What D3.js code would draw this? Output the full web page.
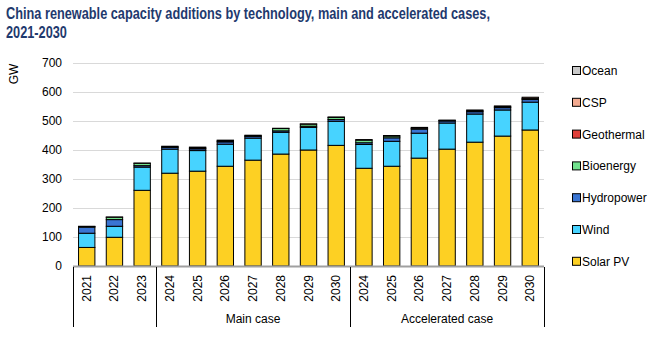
<!DOCTYPE html>
<html>
<head>
<meta charset="utf-8">
<script src="https://cdn.jsdelivr.net/npm/d3@7"></script>
<style>
  body { margin: 0; background: #fff; }
  svg { display: block; font-family: "Liberation Sans", Arial, sans-serif; }
</style>
</head>
<body>
<svg></svg>
<script>
// Data
const years = ["2021", "2022", "2023",
  "2024", "2025", "2026", "2027", "2028", "2029", "2030",
  "2024", "2025", "2026", "2027", "2028", "2029", "2030"];
const solarPV    = [64, 99, 261, 320, 327, 344, 365, 386, 400, 416, 337, 344, 372, 403, 427, 448, 469];
const wind       = [49, 38, 80, 83, 71, 76, 76, 75, 78, 83, 82, 86, 86, 90, 97, 90, 96];
const hydropower = [21, 23, 5, 6, 6, 8, 6, 5, 4, 6, 6, 12, 14, 7, 8, 8, 9];
const bioenergy  = [2, 8, 8, 2, 3, 3, 2, 8, 7, 7, 9, 6, 3, 2, 3, 3, 4];
const geothermal = [0, 0, 0, 0, 0, 0, 0, 0, 0, 0, 0, 0, 0, 0, 0, 0, 0];
const csp        = [1, 1, 1, 2, 3, 3, 2, 1, 1, 2, 2, 2, 3, 1, 3, 3, 4];
const ocean      = [0, 0, 0, 0, 0, 0, 0, 0, 0, 0, 0, 0, 0, 0, 0, 0, 0];
const seriesNames = ["Solar PV", "Wind", "Hydropower", "Bioenergy", "Geothermal", "CSP", "Ocean"];
const seriesColors = ["#FDD023", "#47D3FF", "#3A75D3", "#72E28E", "#E0403A", "#F3AA90", "#C9C9C9"];
const groups = [
  {label: "", from: 0, to: 2},
  {label: "Main case", from: 3, to: 9},
  {label: "Accelerated case", from: 10, to: 16}
];
const yTicks = [0, 100, 200, 300, 400, 500, 600, 700];

const width = 658, height = 337;
const svg = d3.select("svg").attr("width", width).attr("height", height);

const margin = {left: 73, right: 114, top: 63, bottom: 71};
const plotRight = width - margin.right;   // 544
const plotBottom = height - margin.bottom; // 266

// build rows for stacking
const cols = [solarPV, wind, hydropower, bioenergy, geothermal, csp, ocean];
const rows = years.map((y, i) => {
  const r = {idx: i};
  seriesNames.forEach((s, k) => r[s] = cols[k][i]);
  return r;
});
const stacked = d3.stack().keys(seriesNames)(rows);

const x = d3.scaleBand()
  .domain(d3.range(years.length))
  .range([margin.left, plotRight])
  .paddingInner(0.41)
  .paddingOuter(0.2);

const y = d3.scaleLinear()
  .domain([0, 700])
  .range([plotBottom, margin.top]);

// Title (condensed to fit the original width)
const title = svg.append("g")
  .attr("fill", "#1F3A6E")
  .style("font-weight", "bold")
  .style("font-size", "16px");
const t1 = title.append("text").attr("x", 6).attr("y", 19)
  .text("China renewable capacity additions by technology, main and accelerated cases,");
const t2 = title.append("text").attr("x", 6).attr("y", 38).text("2021-2030");
const ratio = Math.min(1, 484 / t1.node().getComputedTextLength());
[t1, t2].forEach(t => {
  const len = t.node().getComputedTextLength();
  t.attr("textLength", len * ratio).attr("lengthAdjust", "spacingAndGlyphs");
});

// Gridlines
svg.append("g")
  .selectAll("line")
  .data(yTicks.filter(d => d > 0))
  .join("line")
  .attr("x1", margin.left)
  .attr("x2", plotRight)
  .attr("y1", d => Math.round(y(d)) + 0.5)
  .attr("y2", d => Math.round(y(d)) + 0.5)
  .attr("stroke", "#D9D9D9")
  .attr("stroke-width", 1);

// Y axis labels
svg.append("g")
  .attr("transform", `translate(${margin.left},0)`)
  .call(d3.axisLeft(y).tickValues(yTicks).tickSize(0).tickPadding(11))
  .call(g => g.select(".domain").remove())
  .selectAll("text")
  .style("font-size", "12px")
  .style("font-family", "Liberation Sans, Arial, sans-serif")
  .attr("fill", "#000");

svg.append("text")
  .attr("transform", "translate(18,74) rotate(-90)")
  .attr("text-anchor", "middle")
  .style("font-size", "12px")
  .text("GW");

// Bars
svg.append("g")
  .selectAll("g")
  .data(stacked)
  .join("g")
  .attr("fill", (d, i) => seriesColors[i])
  .selectAll("rect")
  .data(d => d.filter(p => p[1] - p[0] > 0))
  .join("rect")
  .attr("x", d => x(d.data.idx))
  .attr("y", d => y(d[1]))
  .attr("width", x.bandwidth())
  .attr("height", d => y(d[0]) - y(d[1]))
  .attr("stroke", "#000")
  .attr("stroke-width", 1);

// X axis baseline
svg.append("line")
  .attr("x1", margin.left).attr("x2", plotRight)
  .attr("y1", plotBottom + 0.5).attr("y2", plotBottom + 0.5)
  .attr("stroke", "#A0A0A0")
  .attr("stroke-width", 2);

// X tick labels (rotated)
svg.append("g")
  .selectAll("text")
  .data(years)
  .join("text")
  .attr("transform", (d, i) => `translate(${x(i) + x.bandwidth() / 2 + 4},275) rotate(-90)`)
  .attr("text-anchor", "end")
  .style("font-size", "12px")
  .text(d => d);

// Group separators and labels
const bounds = [margin.left, x(3) - x.step() * x.paddingInner() / 2, x(10) - x.step() * x.paddingInner() / 2, plotRight];
svg.append("g")
  .selectAll("line")
  .data(bounds)
  .join("line")
  .attr("x1", d => Math.round(d) + 0.5)
  .attr("x2", d => Math.round(d) + 0.5)
  .attr("y1", plotBottom + 1)
  .attr("y2", 327)
  .attr("stroke", "#000");

svg.append("g")
  .selectAll("text")
  .data(groups)
  .join("text")
  .attr("x", (d, i) => (bounds[i] + bounds[i + 1]) / 2)
  .attr("y", 323)
  .attr("text-anchor", "middle")
  .style("font-size", "12px")
  .text(d => d.label);

// Legend
const legend = svg.append("g")
  .selectAll("g")
  .data(seriesNames.slice().reverse())
  .join("g")
  .attr("transform", (d, i) => `translate(572,${66 + i * 31.8})`);

legend.append("rect")
  .attr("x", 0.5).attr("y", 0.5)
  .attr("width", 8).attr("height", 8)
  .attr("fill", d => seriesColors[seriesNames.indexOf(d)])
  .attr("stroke", "#000");

legend.append("text")
  .attr("x", 10)
  .attr("y", 9)
  .style("font-size", "12px")
  .text(d => d);
</script>
</body>
</html>
